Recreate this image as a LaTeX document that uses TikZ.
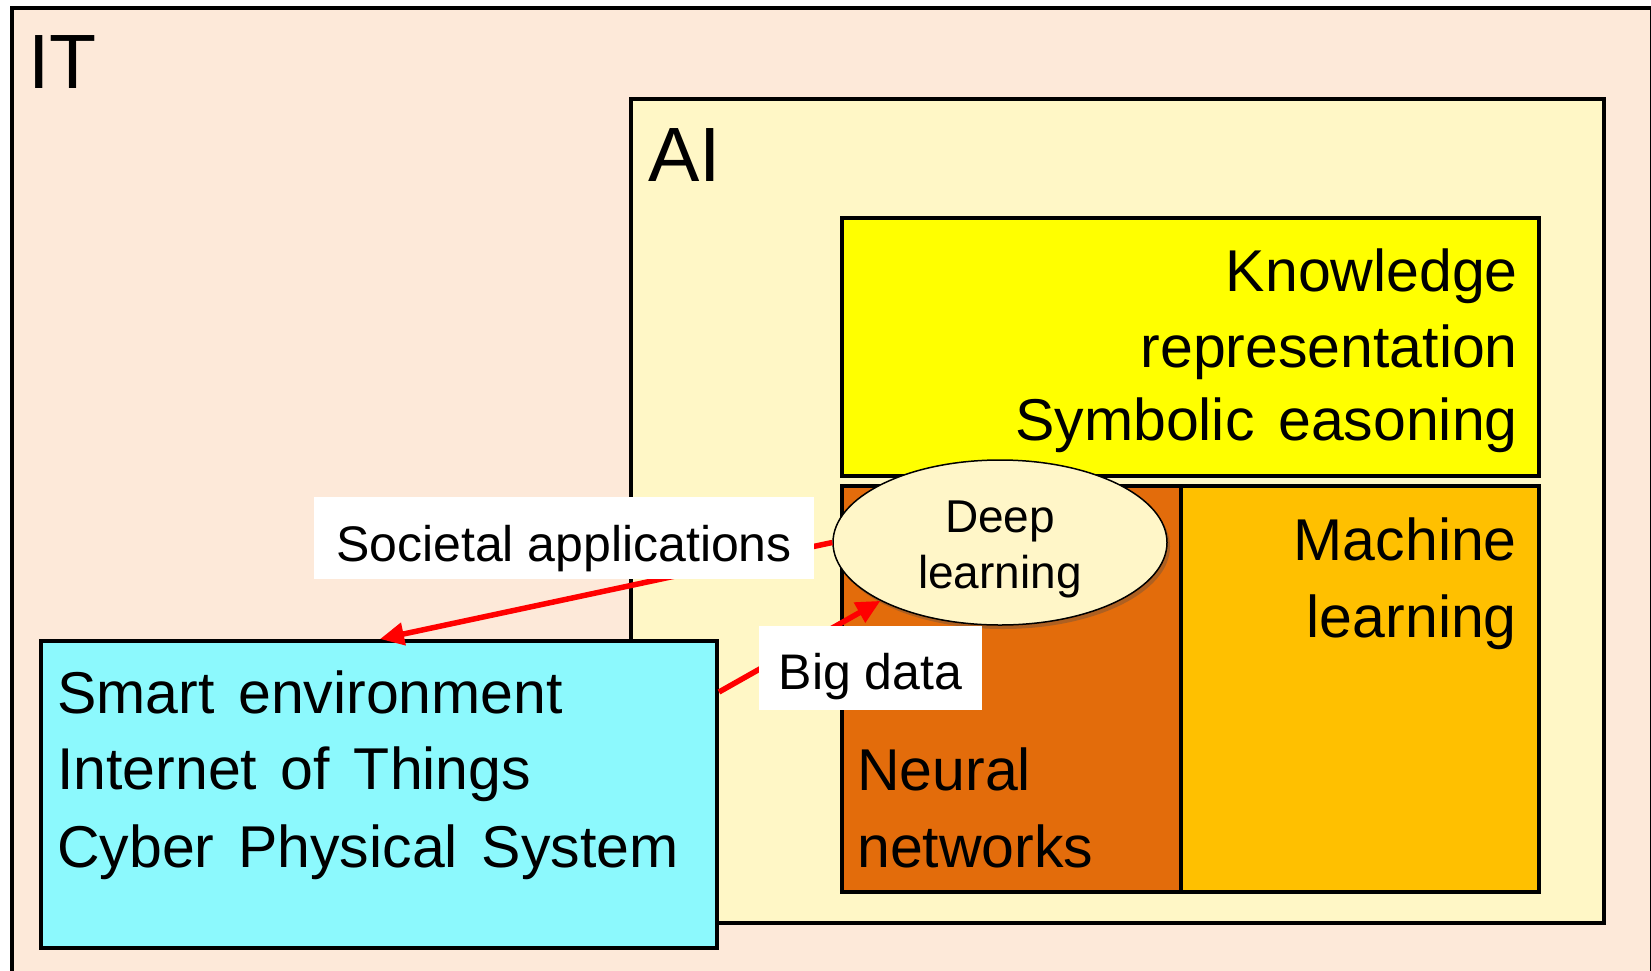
\documentclass[tikz,border=0pt]{standalone}
\usepackage{fontspec}
\setmainfont{Liberation Sans}
\newfontfamily\widefont[WordSpace=1.45]{Liberation Sans}
\usetikzlibrary{arrows.meta,shapes.geometric,shadows}
\definecolor{itfill}{HTML}{FDE9D9}
\definecolor{aifill}{HTML}{FFF7C6}
\definecolor{knowfill}{HTML}{FFFF00}
\definecolor{neurfill}{HTML}{E36C0B}
\definecolor{machfill}{HTML}{FFC000}
\definecolor{dlfill}{HTML}{FFF6C8}
\definecolor{cpsfill}{HTML}{8CF9FD}
\definecolor{arrred}{HTML}{FF0000}
\begin{document}
\begin{tikzpicture}[x=1pt,y=-1pt,
  box/.style={draw=black,line width=4pt,inner sep=0pt,anchor=north west},
  bodytxt/.style={inner sep=0pt,font=\widefont\fontsize{59}{70}\selectfont},
  bigtxt/.style={inner sep=0pt,font=\fontsize{77}{90}\selectfont},
  dltxt/.style={inner sep=0pt,font=\fontsize{46}{56}\selectfont,anchor=base},
  lbl/.style={fill=white,inner sep=0pt,anchor=base,font=\fontsize{50}{60}\selectfont},
  redarrow/.style={draw=arrred,line width=5.5pt,-{Triangle[length=24pt,width=22pt]}}
]
\useasboundingbox (0,0) rectangle (1651,970);
\clip (0,0) rectangle (1651,970);
\fill[white] (0,0) rectangle (1651,970);
% IT
\node[box,fill=itfill,minimum width=1640pt,minimum height=1000pt] (it) at (10,6) {};
\node[bigtxt,anchor=base west] (ittxt) at (28,88) {IT};
% AI
\node[box,fill=aifill,minimum width=973pt,minimum height=824pt] (ai) at (629,97) {};
\node[bigtxt,anchor=base west] (aitxt) at (648,181) {AI};
% Knowledge
\node[box,fill=knowfill,minimum width=697pt,minimum height=258pt] (kr) at (840,216) {};
\node[bodytxt,anchor=base east] (kr1) at (1518,291) {Knowledge};
\node[bodytxt,anchor=base east] (kr2) at (1518,367) {representation};
\node[bodytxt,anchor=base east] (kr3) at (1518,440) {Symbolic easoning};
% Neural networks
\node[box,fill=neurfill,minimum width=339pt,minimum height=406pt] (nn) at (840,484) {};
\node[bodytxt,anchor=base west] (nn1) at (857,790) {Neural};
\node[bodytxt,anchor=base west] (nn2) at (857,867) {networks};
% Machine learning
\node[box,fill=machfill,minimum width=358pt,minimum height=406pt] (ml) at (1179,484) {};
\node[bodytxt,anchor=base east] (ml1) at (1517,560) {Machine};
\node[bodytxt,anchor=base east] (ml2) at (1517,637) {learning};
% Cyber physical
\node[box,fill=cpsfill,minimum width=676pt,minimum height=307pt] (cps) at (39,639) {};
\node[bodytxt,anchor=base west] (cps1) at (57,713) {Smart environment};
\node[bodytxt,anchor=base west] (cps2) at (57,789) {Internet of Things};
\node[bodytxt,anchor=base west] (cps3) at (57,867) {Cyber Physical System};
% Deep learning ellipse
\node[ellipse,draw=black,line width=1.5pt,fill=dlfill,minimum width=334pt,minimum height=165pt,inner sep=0pt,
  drop shadow={shadow xshift=3pt,shadow yshift=-4pt,opacity=0.35,fill=black!70}] (dl) at (1000,542.5) {};
\node[dltxt] (dl1) at (1000,532) {Deep};
\node[dltxt] (dl2) at (1000,588) {learning};
% arrows
\draw[redarrow] (dl.west) -- (380,0 |- cps.north);
\draw[redarrow] (cps.east |- 0,692) -- (dl.206.8);
% labels
\node[lbl,minimum width=500pt,text height=64pt,text depth=18pt] (soc) at (564,561) {Societal applications};
\node[lbl,minimum width=223pt,text height=63pt,text depth=21pt] (bd) at (870.5,689) {Big data};
\end{tikzpicture}
\end{document}
